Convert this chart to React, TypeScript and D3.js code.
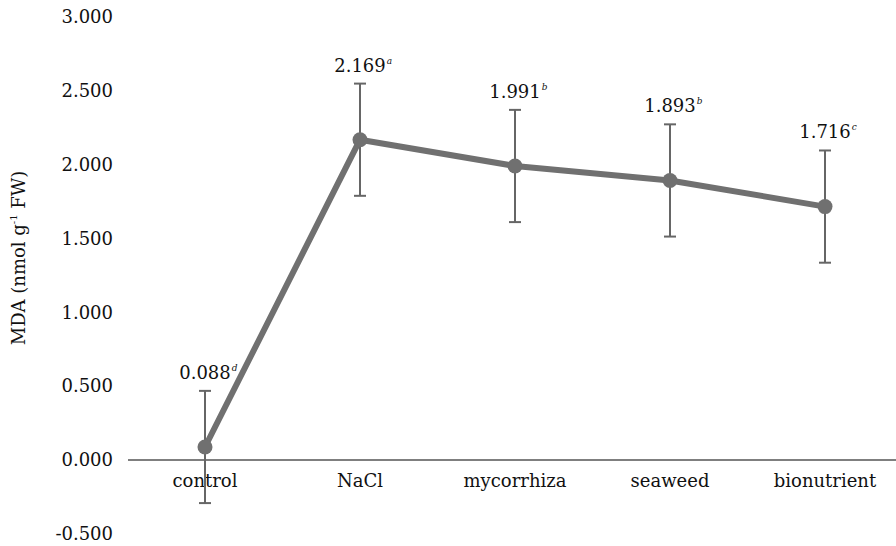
import React from "react";
import * as d3 from "d3";

const categories = ["control", "NaCl", "mycorrhiza", "seaweed", "bionutrient"];
const values = [0.088, 2.169, 1.991, 1.893, 1.716];
const errors = [0.38, 0.38, 0.38, 0.38, 0.38];
const letters = ["d", "a", "b", "b", "c"];
const yTickValues = [-0.5, 0, 0.5, 1, 1.5, 2, 2.5, 3];

export default function App() {
  const width = 896;
  const height = 546;
  const font = "'DejaVu Serif', serif";
  const fontSize = 18;

  const xScale = d3.scalePoint<string>().domain(categories).range([127.5, 902.5]).padding(0.5);
  const yScale = d3.scaleLinear().domain([-0.5, 3]).range([533.8, 17]);
  // plain hyphen for negatives, like the original
  const fmt = (v: number) => d3.format(".3f")(v).replace("\u2212", "-");

  const line = d3
    .line<number>()
    .x((d, i) => xScale(categories[i]) as number)
    .y((d) => yScale(d));

  // rough width of the number, so the superscript sits right after it
  const textWidth = (s: string) =>
    s.split("").reduce((w, c) => w + (c === "." ? 0.318 : 0.636) * fontSize, 0);

  return (
    <svg
      width={width}
      height={height}
      style={{ position: "absolute", left: 0, top: 0, background: "#fff" }}
      fontFamily={font}
    >
      {/* y tick labels, no axis line */}
      {yTickValues.map((t) => (
        <text
          key={t}
          x={113}
          y={yScale(t)}
          dy="0.35em"
          textAnchor="end"
          fontSize={fontSize}
          fill="#111"
        >
          {fmt(t)}
        </text>
      ))}

      <text
        transform={`translate(25, 258) rotate(-90)`}
        textAnchor="middle"
        fontSize={fontSize}
        fill="#111"
      >
        MDA (nmol g
        <tspan fontSize={10} dy={-8}>-1</tspan>
        <tspan dy={8}> FW)</tspan>
      </text>

      {/* zero line */}
      <line x1={128} x2={896} y1={yScale(0)} y2={yScale(0)} stroke="#555" strokeWidth={1.5} />

      {categories.map((c) => (
        <text
          key={c}
          x={xScale(c)}
          y={yScale(0) + 27}
          textAnchor="middle"
          fontSize={fontSize}
          fill="#111"
        >
          {c}
        </text>
      ))}

      {/* error bars */}
      {values.map((v, i) => {
        const x = xScale(categories[i]) as number;
        const y1 = yScale(v + errors[i]);
        const y2 = yScale(v - errors[i]);
        return (
          <g key={i} stroke="#666" strokeWidth={2}>
            <line x1={x} x2={x} y1={y1} y2={y2} />
            <line x1={x - 6} x2={x + 6} y1={y1} y2={y1} />
            <line x1={x - 6} x2={x + 6} y1={y2} y2={y2} />
          </g>
        );
      })}

      <path d={line(values) || ""} fill="none" stroke="#707070" strokeWidth={6} strokeLinejoin="round" />

      {values.map((v, i) => (
        <circle key={i} cx={xScale(categories[i])} cy={yScale(v)} r={7.5} fill="#707070" />
      ))}

      {/* value labels with significance letters */}
      {values.map((v, i) => {
        const x = xScale(categories[i]) as number;
        const y = yScale(v + errors[i]) - 12;
        const label = fmt(v);
        return (
          <g key={i}>
            <text x={x} y={y} textAnchor="middle" fontSize={fontSize} fill="#111">
              {label}
            </text>
            <text
              x={x + textWidth(label) / 2 + 1}
              y={y - 8}
              fontSize={9}
              fontStyle="italic"
              fill="#111"
            >
              {letters[i]}
            </text>
          </g>
        );
      })}
    </svg>
  );
}
